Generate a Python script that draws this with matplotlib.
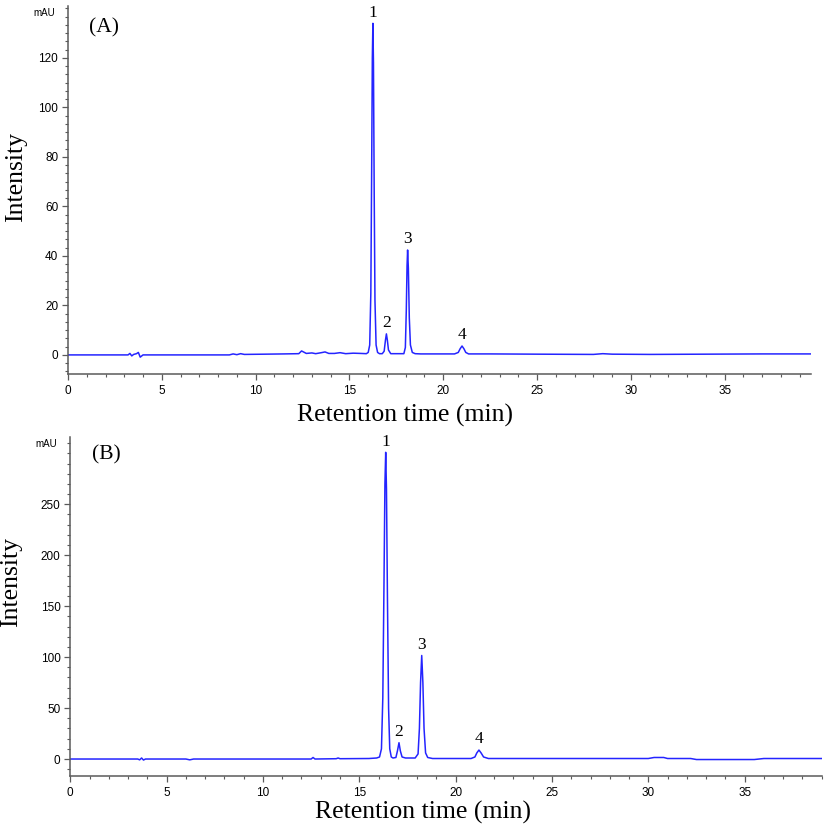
import numpy as np
import matplotlib
matplotlib.use('Agg')
from matplotlib import pyplot as plt
from matplotlib.ticker import MultipleLocator


# chromatogram (A), points: time (min), intensity (mAU)
time_a = [0, 3.2, 3.3, 3.4, 3.5, 3.65, 3.75, 3.85, 4.0, 8.6, 8.8, 9.0, 9.2, 9.4,
          10.5, 11.5, 12.3, 12.45, 12.55, 12.7, 13.0, 13.2, 13.5, 13.7, 13.9, 14.2,
          14.5, 14.8, 15.2, 15.6, 15.9, 16.0, 16.08, 16.14, 16.18, 16.22, 16.25,
          16.28, 16.32, 16.36, 16.42, 16.5, 16.6, 16.75, 16.85, 16.92, 16.97, 17.02,
          17.08, 17.2, 17.4, 17.7, 17.9, 17.98, 18.03, 18.07, 18.1, 18.14, 18.19,
          18.25, 18.35, 18.5, 18.8, 19.5, 20.3, 20.6, 20.8, 20.9, 21.0, 21.1, 21.2,
          21.35, 21.6, 22.5, 25, 28, 28.5, 29, 31, 34, 37, 39.6]
signal_a = [0, 0, 0.6, -0.4, 0.2, 0.5, 1.0, -0.9, 0, 0, 0.4, 0.1, 0.5, 0.2,
            0.3, 0.4, 0.5, 1.6, 1.2, 0.6, 0.8, 0.5, 0.9, 1.2, 0.6, 0.6,
            0.9, 0.5, 0.7, 0.6, 0.5, 1.0, 4, 25, 70, 120, 134,
            118, 65, 22, 4, 1.0, 0.5, 0.5, 1.5, 6, 8.5, 6,
            2, 0.5, 0.5, 0.5, 0.5, 3, 18, 36, 42.4, 35, 15,
            4, 1, 0.5, 0.4, 0.4, 0.4, 0.4, 1, 2.5, 3.6, 2.5, 1,
            0.4, 0.4, 0.4, 0.3, 0.2, 0.5, 0.3, 0.2, 0.3, 0.4, 0.4]

# chromatogram (B)
time_b = [0, 3.5, 3.6, 3.7, 3.8, 3.9, 6.0, 6.2, 6.4, 9.0, 12.5, 12.6, 12.7, 13.8,
          13.9, 14.0, 15.5, 15.9, 16.05, 16.15, 16.22, 16.28, 16.33, 16.37, 16.41,
          16.46, 16.52, 16.58, 16.66, 16.75, 16.9, 16.98, 17.06, 17.13, 17.22, 17.4,
          17.9, 18.05, 18.12, 18.18, 18.24, 18.3, 18.36, 18.44, 18.55, 18.8, 20.0,
          20.8, 21.0, 21.1, 21.21, 21.32, 21.45, 21.7, 24, 30.0, 30.3, 30.8, 31.0,
          32.2, 32.5, 35.5, 36.0, 39.0]
signal_b = [0, 0, -0.8, 1.0, -1.0, 0, 0, -0.8, 0, 0, 0, 1.5, 0, 0.3,
            1.0, 0.3, 0.5, 1.0, 2, 10, 60, 170, 270, 301, 265,
            160, 50, 10, 2, 1, 1.5, 8, 16, 8, 2, 1,
            1, 5, 30, 75, 101.6, 75, 30, 6, 1.5, 0.5, 0.5,
            0.5, 2, 6, 8.8, 6, 2, 0.5, 0.5, 0.5, 1.5, 1.5, 0.5,
            0.5, -0.5, -0.5, 0.5, 0.5]

# peak apexes
peaks_a_t = [16.25, 16.97, 18.1, 21.0]
peaks_a_h = [134, 8.5, 42.4, 3.6]
peaks_b_t = [16.37, 17.06, 18.24, 21.21]
peaks_b_h = [301, 16, 101.6, 8.8]
peak_names = ['1', '2', '3', '4']

# labelled y ticks (the top one is replaced by "mAU")
yticks_a = [0, 20, 40, 60, 80, 100, 120]
yticks_b = [0, 50, 100, 150, 200, 250]

line_col = '#2424ff'
axis_col = '#5a5a5a'
serif = ['Liberation Serif', 'DejaVu Serif']
sans = ['Liberation Sans', 'DejaVu Sans']

fig = plt.figure(figsize=(8.27, 8.34), dpi=100)
ax_a = fig.add_axes([0.0822, 0.5516, 0.8985, 0.4412])
ax_b = fig.add_axes([0.085, 0.0695, 0.9086, 0.4065])


def style(ax, t, s, pt, ph, xmax, ylim, yticks, ymin, tag, lab_x, ylab_y):
    ax.plot(t, s, color=line_col, lw=1.1)
    ax.set_xlim(0, xmax)
    ax.set_ylim(*ylim)
    ax.xaxis.set_major_locator(MultipleLocator(5))
    ax.xaxis.set_minor_locator(MultipleLocator(1))
    ax.set_yticks(yticks)
    ax.yaxis.set_minor_locator(MultipleLocator(ymin))
    for side in ['top', 'right']:
        ax.spines[side].set_visible(False)
    for side in ['left', 'bottom']:
        ax.spines[side].set_color(axis_col)
        ax.spines[side].set_linewidth(1.1)
    ax.tick_params(which='major', direction='out', length=4.5, width=0.9,
                   color=axis_col, labelsize=8.5, pad=2.5)
    ax.tick_params(which='minor', direction='out', length=2.5, width=0.8,
                   color=axis_col)
    ax.tick_params(axis='x', which='major', pad=3.5)
    for lb in ax.get_xticklabels() + ax.get_yticklabels():
        lb.set_fontfamily(sans)

    for name, x, y in zip(peak_names, pt, ph):
        ax.annotate(name, (x, y), xytext=(0, 2), textcoords='offset points',
                    ha='center', va='bottom', fontsize=12.5, family=serif,
                    annotation_clip=False)

    ax.text(0.048, ylab_y[0], tag, transform=ax.transAxes, ha='center',
            va='center', fontsize=15.5, family=serif)
    ax.text(-0.032, 0.98, 'mAU', transform=ax.transAxes, ha='center',
            va='center', fontsize=7, family=sans)

    ax.set_xlabel('Retention time (min)', fontsize=18.5, family=serif, va='top')
    ax.xaxis.set_label_coords(lab_x[0], lab_x[1])
    ax.set_ylabel('Intensity', fontsize=18.5, family=serif, va='center')
    ax.yaxis.set_label_coords(ylab_y[1], ylab_y[2])


style(ax_a, time_a, signal_a, peaks_a_t, peaks_a_h, 39.6, (-7.7, 141), yticks_a,
      20 / 6, '(A)', (0.454, -0.082), (0.940, -0.07, 0.534))
style(ax_b, time_b, signal_b, peaks_b_t, peaks_b_h, 39.0, (-16.7, 316), yticks_b,
      10, '(B)', (0.47, -0.074), (0.947, -0.079, 0.571))

fig.savefig('out.png', dpi=100)
